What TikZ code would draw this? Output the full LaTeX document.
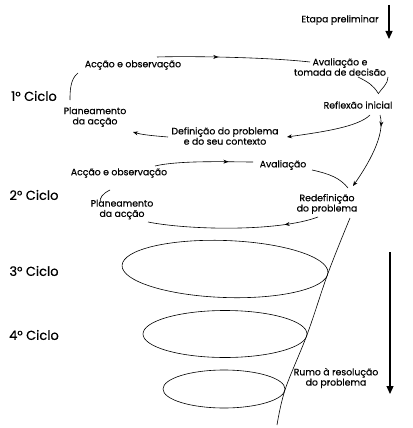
\documentclass[tikz,border=0pt]{standalone}
\usepackage{fontspec}
\setmainfont{Poppins}[FakeBold=0.5]
\usetikzlibrary{arrows.meta,decorations.markings,shapes.geometric}
\tikzset{
  lbl/.style={align=center,font=\fontsize{9.3}{10.3}\selectfont,inner sep=0.5pt},
  cyc/.style={font=\fontsize{13}{15}\selectfont,inner sep=0.5pt},
  arc/.style={line width=0.6pt},
  tip/.style={-{Stealth[length=5pt,width=4pt]}},
  midtip/.style={postaction={decorate},decoration={markings,mark=at position #1 with {\arrow{Stealth[length=5pt,width=4pt]}}}},
  ring/.style={draw,ellipse,line width=0.6pt,inner sep=0pt},
  bigarr/.style={-{Triangle[length=8pt,width=7pt]},line width=1.2pt}
}

\begin{document}
\begin{tikzpicture}[x=1pt,y=-1pt]
  \useasboundingbox (0,0) rectangle (412,428);
  % preliminary step
  \node[lbl] (etapa) at (340,20) {Etapa preliminar};
  \coordinate (etapatop) at (389,5);
  \coordinate (etapabot) at (389,39);
  \draw[bigarr] (etapatop) -- (etapabot);
  % 1st cycle
  \node[cyc] (ciclo1) at (34,96) {1° Ciclo};
  \node[lbl] (acc1) at (133,65) {Acção e observação};
  \node[lbl] (aval1) at (340,67) {Avaliação e\\tomada de decisão};
  \node[lbl] (refl1) at (358,105) {Reflexão inicial};
  \node[lbl] (plan1) at (95,117) {Planeamento\\da acção};
  \node[lbl] (def1) at (225,136) {Definição do problema\\e do seu contexto};
  \draw[arc,midtip=0.4] ([shift={(24,-8)}]acc1.center) .. controls +(30,-1) and +(-45,-5) .. ([shift={(-30,-5)}]aval1.center);
  \draw[arc] ([shift={(18,10)}]aval1.center) .. controls +(10,5) and +(-5,-8) .. ([shift={(20,-12)}]refl1.center);
  \draw[arc] ([shift={(48,10)}]aval1.center) .. controls +(0,7) and +(4,-6) .. ([shift={(20,-11)}]refl1.center);
  \draw[arc,tip] ([shift={(12,10)}]refl1.center) .. controls +(-12,12) and +(35,-5) .. ([shift={(62,1)}]def1.center);
  \draw[arc,tip] ([shift={(-57,1)}]def1.center) .. controls +(-12,-1) and +(10,3) .. ([shift={(38,15)}]plan1.center);
  \draw[arc] ([shift={(-55,8)}]acc1.center) .. controls +(-8,6) and +(0,-8) .. ([shift={(-25,-17)}]plan1.center);
  % 2nd cycle
  \node[cyc] (ciclo2) at (34,195) {2° Ciclo};
  \node[lbl] (acc2) at (119,173) {Acção e observação};
  \node[lbl] (aval2) at (283,165) {Avaliação};
  \node[lbl] (plan2) at (122,209.5) {Planeamento\\da acção};
  \node[lbl] (redef2) at (327,204) {Redefinição\\do problema};
  \draw[arc,tip,midtip=0.15] ([shift={(22,10)}]refl1.center) .. controls +(6,20) and +(14,-20) .. ([shift={(26,-18)}]redef2.center);
  \draw[arc,midtip=0.75] ([shift={(36,-7)}]acc2.center) .. controls +(25,-6) and +(-20,0) .. ([shift={(-30,-3)}]aval2.center);
  \draw[arc] ([shift={(29,5)}]aval2.center) .. controls +(18,4) and +(-8,-10) .. ([shift={(21,-16)}]redef2.center);
  \draw[arc] ([shift={(-9,17)}]acc2.center) .. controls +(-8,4) and +(0,-5) .. ([shift={(-22,-7)}]plan2.center);
  \draw[arc,midtip=0.2] ([shift={(-9,13)}]redef2.center) .. controls +(-40,15) and +(40,8) .. ([shift={(26,12.5)}]plan2.center);
  % later cycles
  \node[cyc] (ciclo3) at (34,271) {3° Ciclo};
  \node[cyc] (ciclo4) at (34,335) {4° Ciclo};
  \node[ring,minimum width=206pt,minimum height=57pt,rotate=-2] (cyc3) at (225,269) {};
  \node[ring,minimum width=164pt,minimum height=47pt] (cyc4) at (225,334) {};
  \node[ring,minimum width=122pt,minimum height=38pt] (cyc5) at (224,389) {};
  \coordinate (spend) at (277,425);
  \draw[arc] plot[smooth,tension=0.6] coordinates {([shift={(23,14)}]redef2.center) (cyc3.east) (cyc4.east) (cyc5.east) (spend)};
  % towards resolution
  \node[lbl] (rumo) at (336,378) {Rumo à resolução\\do problema};
  \coordinate (rumotop) at (390,252);
  \coordinate (rumobot) at (390,394);
  \draw[bigarr] (rumotop) -- (rumobot);
\end{tikzpicture}
\end{document}
